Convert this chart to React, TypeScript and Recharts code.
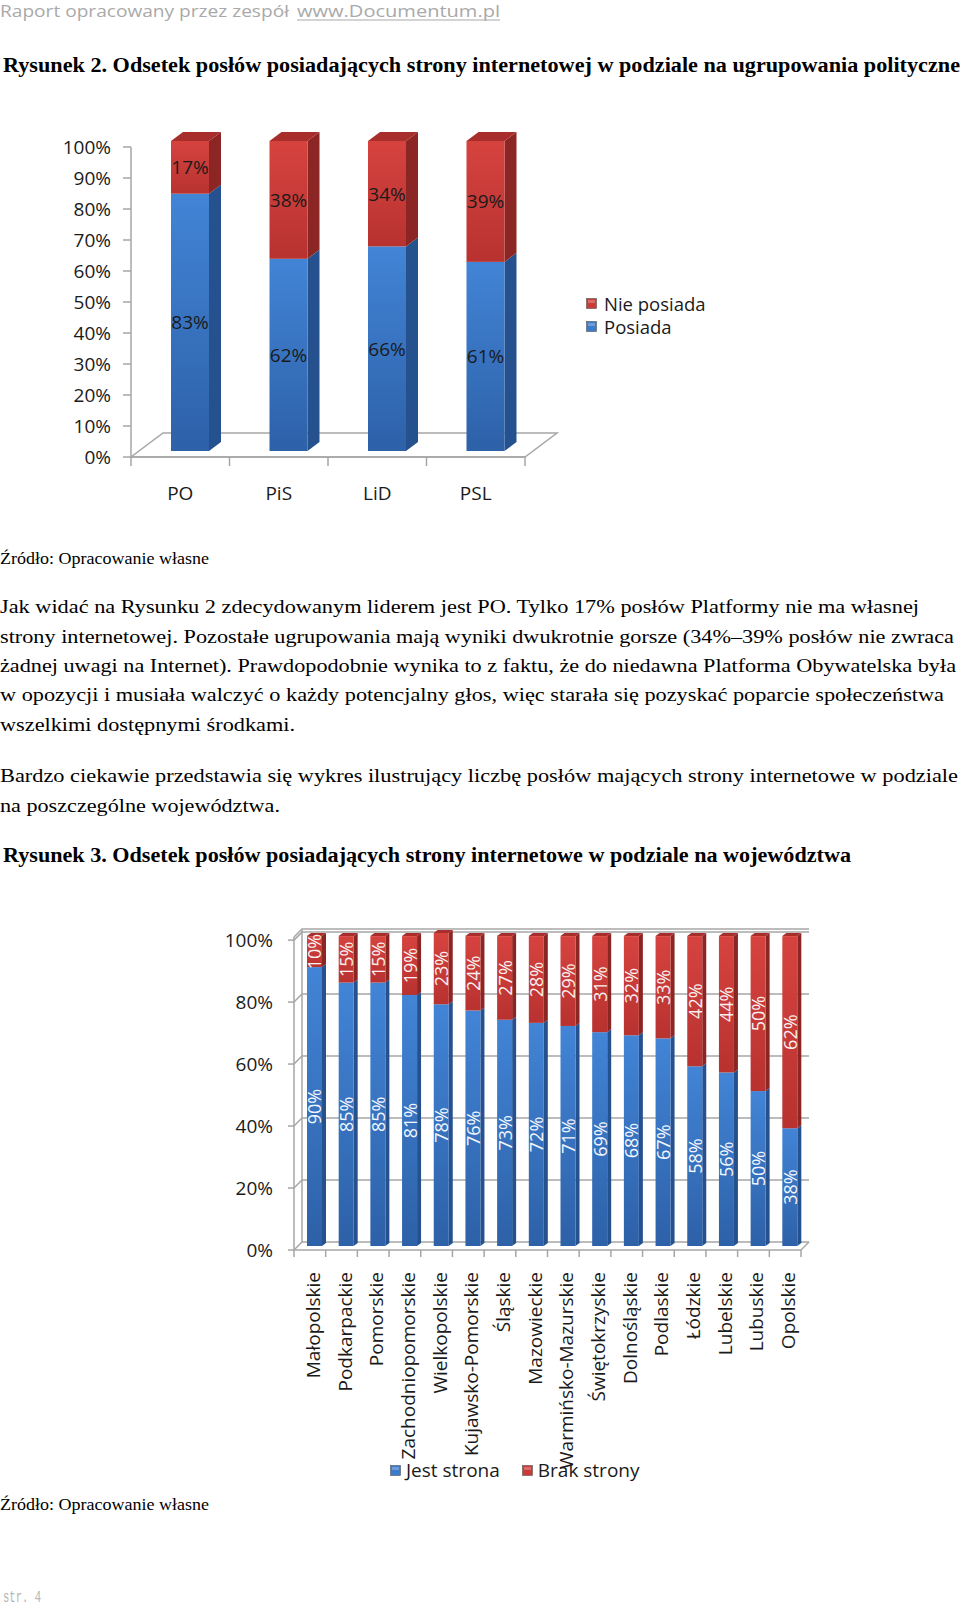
import React from "react";
import {
  Bar,
  BarChart,
  CartesianGrid,
  LabelList,
  Legend,
  XAxis,
  YAxis,
} from "recharts";

// Rysunek 2 – ugrupowania polityczne
const PARTIES = ["PO", "PiS", "LiD", "PSL"];
const POSIADA = [83, 62, 66, 61];
const NIE_POSIADA = [17, 38, 34, 39];
const PARTY_TICKS = [0, 10, 20, 30, 40, 50, 60, 70, 80, 90, 100];

// Rysunek 3 – województwa
const VOIVODESHIPS = [
  "Małopolskie",
  "Podkarpackie",
  "Pomorskie",
  "Zachodniopomorskie",
  "Wielkopolskie",
  "Kujawsko-Pomorskie",
  "Śląskie",
  "Mazowieckie",
  "Warmińsko-Mazurskie",
  "Świętokrzyskie",
  "Dolnośląskie",
  "Podlaskie",
  "Łódzkie",
  "Lubelskie",
  "Lubuskie",
  "Opolskie",
];
const JEST_STRONA = [90, 85, 85, 81, 78, 76, 73, 72, 71, 69, 68, 67, 58, 56, 50, 38];
const BRAK_STRONY = [10, 15, 15, 19, 23, 24, 27, 28, 29, 31, 32, 33, 42, 44, 50, 62];
const VOIV_TICKS = [0, 20, 40, 60, 80, 100];

const partyData = PARTIES.map((name, i) => ({
  name,
  posiada: POSIADA[i],
  nie: NIE_POSIADA[i],
}));

const voivData = VOIVODESHIPS.map((name, i) => ({
  name,
  jest: JEST_STRONA[i],
  brak: BRAK_STRONY[i],
}));

const FONT = "'Open Sans', 'DejaVu Sans', sans-serif";
const SERIF = "'Liberation Serif', 'Times New Roman', serif";
const AXIS = "#a6a6a6";
const INK = "#1a1a1a";
const BLUE = "#3b7bcc";
const RED = "#cc3a37";

type Depth = { dx: number; dy: number; sx: number; sy: number };

const DEPTH_1: Depth = { dx: 10, dy: -6, sx: 12, sy: 9 };
const DEPTH_2: Depth = { dx: 5, dy: -4, sx: 4, sy: 3 };

function box(props: any) {
  const vb = props.viewBox ?? props;
  const y = Math.min(vb.y, vb.y + vb.height);
  return { x: vb.x, y, width: vb.width, height: Math.abs(vb.height) };
}

function bar3d(d: Depth, frontId: string, side: string, top: string, withTop: boolean) {
  return (props: any) => {
    const { x, y, width, height } = box(props);
    if (!width || !height) return <g />;
    const fx = x + d.dx;
    const fy = y + d.dy;
    const r = fx + width;
    return (
      <g>
        <polygon
          points={`${r},${fy} ${r + d.sx},${fy - d.sy} ${r + d.sx},${fy + height - d.sy} ${r},${fy + height}`}
          fill={side}
        />
        {withTop && (
          <polygon
            points={`${fx},${fy} ${fx + d.sx},${fy - d.sy} ${r + d.sx},${fy - d.sy} ${r},${fy}`}
            fill={top}
          />
        )}
        <rect x={fx} y={fy} width={width} height={height} fill={`url(#${frontId})`} />
      </g>
    );
  };
}

function valueLabel(d: Depth, color: string, size: number, rotate: boolean) {
  return (props: any) => {
    const { x, y, width, height } = box(props);
    const cx = x + width / 2 + d.dx;
    const cy = y + height / 2 + d.dy;
    return (
      <text
        x={cx}
        y={cy}
        fill={color}
        fontSize={size}
        fontFamily={FONT}
        textAnchor="middle"
        dominantBaseline="central"
        transform={rotate ? `rotate(-90, ${cx}, ${cy})` : undefined}
      >
        {`${props.value}%`}
      </text>
    );
  };
}

function Gradients({ prefix }: { prefix: string }) {
  return (
    <defs>
      <linearGradient id={`${prefix}-blue`} x1="0" y1="0" x2="0" y2="1">
        <stop offset="0%" stopColor="#4284d6" />
        <stop offset="100%" stopColor="#2d61a8" />
      </linearGradient>
      <linearGradient id={`${prefix}-red`} x1="0" y1="0" x2="0" y2="1">
        <stop offset="0%" stopColor="#d6433f" />
        <stop offset="100%" stopColor="#b83230" />
      </linearGradient>
    </defs>
  );
}

function Marker({ color }: { color: string }) {
  return (
    <svg width={11} height={11} style={{ display: "block" }}>
      <rect x={0.5} y={0.5} width={10} height={10} fill={color} stroke="#555" strokeWidth={0.6} />
      <rect x={2} y={2} width={7} height={3} fill="#fff" opacity={0.25} />
    </svg>
  );
}

// floor of the 3D chart drawn from the bottom grid line
function partyFloor(props: any) {
  const { x1, x2, y1, index } = props;
  const pts: number[] = props.horizontalPoints ?? [];
  const bottom = pts.length ? Math.max(...pts) : props.y + props.height;
  if (Math.abs(y1 - bottom) > 0.5) return <g key={`f-${index}`} />;
  const n = PARTIES.length;
  const step = (x2 - x1) / n;
  return (
    <g key={`f-${index}`} stroke={AXIS} strokeWidth={1.5} fill="none">
      <polygon points={`${x1},${y1} ${x2},${y1} ${x2 + 32},${y1 - 24} ${x1 + 32},${y1 - 24}`} />
      {Array.from({ length: n + 1 }, (_, i) => (
        <line key={i} x1={x1 + i * step} x2={x1 + i * step} y1={y1} y2={y1 + 9} />
      ))}
    </g>
  );
}

function voivWall(props: any) {
  const { x1, x2, y1, index } = props;
  const pts: number[] = props.horizontalPoints ?? [];
  const bottom = pts.length ? Math.max(...pts) : props.y + props.height;
  const topY = pts.length ? Math.min(...pts) : props.y;
  const isBottom = Math.abs(y1 - bottom) < 0.5;
  const n = VOIVODESHIPS.length;
  const step = (x2 - x1) / n;
  return (
    <g key={`w-${index}`} stroke={AXIS} strokeWidth={1.5} fill="none">
      <path d={`M${x1},${y1} L${x1 + 8},${y1 - 8} L${x2 + 8},${y1 - 8}`} />
      {isBottom && (
        <>
          <path d={`M${x1 + 8},${y1 - 8} L${x1 + 8},${topY - 8}`} />
          <path d={`M${x2},${y1} L${x2 + 8},${y1 - 8}`} />
          {Array.from({ length: n + 1 }, (_, i) => (
            <line key={i} x1={x1 + i * step} x2={x1 + i * step} y1={y1} y2={y1 + 7} />
          ))}
        </>
      )}
    </g>
  );
}

function PartiesChart() {
  return (
    <BarChart
      width={760}
      height={420}
      data={partyData}
      margin={{ top: 37, right: 235, bottom: 23, left: 0 }}
      barSize={38}
    >
      <Gradients prefix="p" />
      <CartesianGrid horizontal={partyFloor} vertical={false} />
      <XAxis
        dataKey="name"
        height={50}
        interval={0}
        tickLine={false}
        tickSize={10}
        tickMargin={20}
        axisLine={{ stroke: AXIS, strokeWidth: 1.5 }}
        tick={{ fontSize: 19, fill: INK, fontFamily: FONT }}
      />
      <YAxis
        width={131}
        domain={[0, 100]}
        ticks={PARTY_TICKS}
        interval={0}
        tickFormatter={(v) => `${v}%`}
        tickSize={8}
        tickMargin={12}
        axisLine={{ stroke: AXIS, strokeWidth: 1.5 }}
        tickLine={{ stroke: AXIS, strokeWidth: 1.5 }}
        tick={{ fontSize: 19, fill: INK, fontFamily: FONT }}
      />
      <Bar
        dataKey="posiada"
        name="Posiada"
        stackId="s"
        fill={BLUE}
        isAnimationActive={false}
        shape={bar3d(DEPTH_1, "p-blue", "#25528f", "#2f64aa", false)}
      >
        <LabelList dataKey="posiada" content={valueLabel(DEPTH_1, INK, 19, false)} />
      </Bar>
      <Bar
        dataKey="nie"
        name="Nie posiada"
        stackId="s"
        fill={RED}
        isAnimationActive={false}
        shape={bar3d(DEPTH_1, "p-red", "#8c2624", "#a82e2b", true)}
      >
        <LabelList dataKey="nie" content={valueLabel(DEPTH_1, INK, 19, false)} />
      </Bar>
      <Legend
        layout="horizontal"
        align="center"
        verticalAlign="middle"
        wrapperStyle={{ left: 586, top: 182, width: 160 }}
        content={(p: any) => (
          <div style={{ fontFamily: FONT, fontSize: 18.5, color: INK }}>
            {(p.payload ?? []).map((e: any) => (
              <div key={e.value} style={{ display: "flex", alignItems: "center", height: 23 }}>
                <Marker color={e.color} />
                <span style={{ marginLeft: 7 }}>{e.value}</span>
              </div>
            ))}
          </div>
        )}
      />
    </BarChart>
  );
}

function VoivTick(props: any) {
  const { x, y, payload } = props;
  const cx = x + 3;
  return (
    <text
      x={cx}
      y={y}
      fill={INK}
      fontSize={19}
      fontFamily={FONT}
      textAnchor="end"
      dominantBaseline="central"
      transform={`rotate(-90, ${cx}, ${y})`}
    >
      {payload.value}
    </text>
  );
}

function VoivodeshipChart() {
  return (
    <BarChart
      width={960}
      height={600}
      data={voivData}
      margin={{ top: 37, right: 159, bottom: 20, left: 0 }}
      barSize={15}
    >
      <Gradients prefix="v" />
      <CartesianGrid horizontal={voivWall} vertical={false} />
      <XAxis
        dataKey="name"
        height={230}
        interval={0}
        tickLine={false}
        tickSize={6}
        tickMargin={16}
        axisLine={{ stroke: AXIS, strokeWidth: 1.5 }}
        tick={<VoivTick />}
      />
      <YAxis
        width={294}
        domain={[0, 100]}
        ticks={VOIV_TICKS}
        interval={0}
        tickFormatter={(v) => `${v}%`}
        tickSize={6}
        tickMargin={15}
        axisLine={{ stroke: AXIS, strokeWidth: 1.5 }}
        tickLine={{ stroke: AXIS, strokeWidth: 1.5 }}
        tick={{ fontSize: 19, fill: INK, fontFamily: FONT }}
      />
      <Bar
        dataKey="jest"
        name="Jest strona"
        stackId="s"
        fill={BLUE}
        isAnimationActive={false}
        shape={bar3d(DEPTH_2, "v-blue", "#25528f", "#2f64aa", false)}
      >
        <LabelList dataKey="jest" content={valueLabel(DEPTH_2, "#f2f6ff", 18, true)} />
      </Bar>
      <Bar
        dataKey="brak"
        name="Brak strony"
        stackId="s"
        fill={RED}
        isAnimationActive={false}
        shape={bar3d(DEPTH_2, "v-red", "#8c2624", "#a82e2b", true)}
      >
        <LabelList dataKey="brak" content={valueLabel(DEPTH_2, "#f8f0f0", 18, true)} />
      </Bar>
      <Legend
        layout="horizontal"
        align="center"
        verticalAlign="middle"
        wrapperStyle={{ left: 390, top: 557, width: 320 }}
        content={(p: any) => (
          <div style={{ display: "flex", fontFamily: FONT, fontSize: 19, color: INK }}>
            {[...(p.payload ?? [])].reverse().map((e: any) => (
              <div key={e.value} style={{ display: "flex", alignItems: "center", marginRight: 22 }}>
                <Marker color={e.color} />
                <span style={{ marginLeft: 5 }}>{e.value}</span>
              </div>
            ))}
          </div>
        )}
      />
    </BarChart>
  );
}

type TextLine = { text: string; x: number; y: number; w: number };

const BODY_LINES: TextLine[] = [
  { text: "Jak widać na Rysunku 2 zdecydowanym liderem jest PO. Tylko 17% posłów Platformy nie ma własnej", x: 0, y: 613, w: 919 },
  { text: "strony internetowej. Pozostałe ugrupowania mają wyniki dwukrotnie gorsze (34%–39% posłów nie zwraca", x: 0, y: 643, w: 954 },
  { text: "żadnej uwagi na Internet). Prawdopodobnie wynika to z faktu, że do niedawna Platforma Obywatelska była", x: 0, y: 672, w: 956 },
  { text: "w opozycji i musiała walczyć o każdy potencjalny głos, więc starała się pozyskać poparcie społeczeństwa", x: 0, y: 701, w: 944 },
  { text: "wszelkimi dostępnymi środkami.", x: 0, y: 731, w: 295 },
  { text: "Bardzo ciekawie przedstawia się wykres ilustrujący liczbę posłów  mających strony internetowe w podziale", x: 0, y: 782, w: 958 },
  { text: "na poszczególne województwa.", x: 0, y: 812, w: 280 },
];

function T({ l, size, bold, color, family }: { l: TextLine; size: number; bold?: boolean; color?: string; family?: string }) {
  return (
    <text
      x={l.x}
      y={l.y}
      fontSize={size}
      fontWeight={bold ? 700 : 400}
      fill={color ?? "#000"}
      fontFamily={family ?? SERIF}
      textLength={l.w}
      lengthAdjust="spacingAndGlyphs"
    >
      {l.text}
    </text>
  );
}

function PageText() {
  return (
    <svg width={960} height={1609} style={{ position: "absolute", left: 0, top: 0 }}>
      <T l={{ text: "Raport opracowany przez zespół", x: 0, y: 17, w: 289 }} size={17} color="#a9a9a9" family={FONT} />
      <T l={{ text: "www.Documentum.pl", x: 297, y: 17, w: 203 }} size={17} color="#a9a9a9" family={FONT} />
      <line x1={297} x2={500} y1={20} y2={20} stroke="#a9a9a9" strokeWidth={1} />
      <T
        l={{ text: "Rysunek 2. Odsetek posłów posiadających strony internetowej w podziale na ugrupowania polityczne", x: 3, y: 72, w: 957 }}
        size={20}
        bold
      />
      <T l={{ text: "Źródło: Opracowanie własne", x: 0, y: 564, w: 209 }} size={17} />
      {BODY_LINES.map((l) => (
        <T key={l.y} l={l} size={19} />
      ))}
      <T
        l={{ text: "Rysunek 3. Odsetek posłów posiadających strony internetowe w podziale na województwa", x: 3, y: 862, w: 848 }}
        size={20}
        bold
      />
      <T l={{ text: "Źródło: Opracowanie własne", x: 0, y: 1510, w: 209 }} size={17} />
      <T l={{ text: "str. 4", x: 3, y: 1602, w: 38 }} size={17} color="#b5b5b5" family="'Liberation Mono', monospace" />
    </svg>
  );
}

export default function App() {
  return (
    <div
      style={{
        position: "absolute",
        left: 0,
        top: 0,
        width: 960,
        height: 1609,
        background: "#fff",
        overflow: "hidden",
      }}
    >
      <PageText />
      <div style={{ position: "absolute", left: 0, top: 110 }}>
        <PartiesChart />
      </div>
      <div style={{ position: "absolute", left: 0, top: 900 }}>
        <VoivodeshipChart />
      </div>
    </div>
  );
}
